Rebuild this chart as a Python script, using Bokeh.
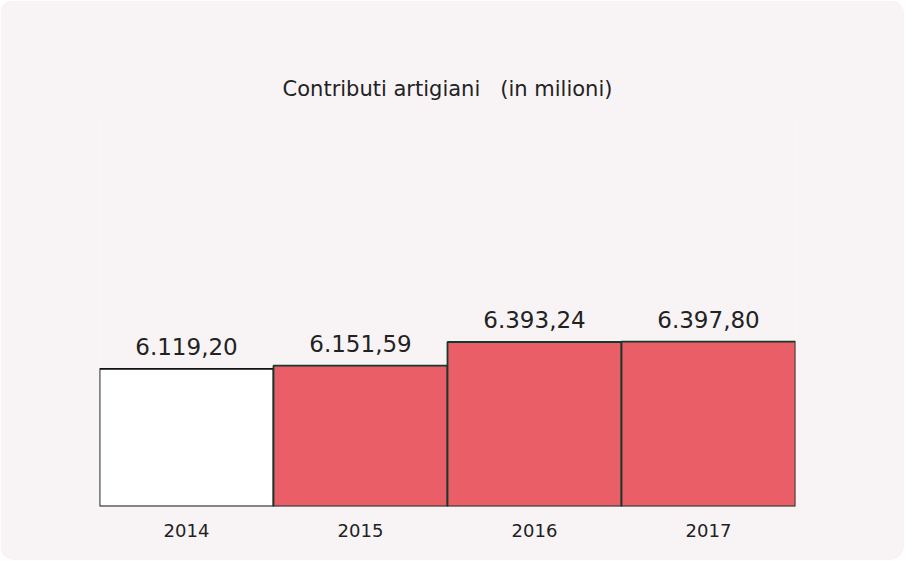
from bokeh.plotting import figure
from bokeh.models import ColumnDataSource, LabelSet, Range1d, FactorRange
from bokeh.core.properties import value
from bokeh.embed import file_html
from bokeh.resources import INLINE

years = ["2014", "2015", "2016", "2017"]
values = [6119.20, 6151.59, 6393.24, 6397.80]
fills = ["#ffffff", "#e95e67", "#e95e67", "#e95e67"]
edges = ["#111111", "#15392f", "#15392f", "#15392f"]
title_text = "Contributi artigiani\u00a0\u00a0 (in milioni)"

def it_fmt(v):
    s = f"{v:,.2f}"
    return s.replace(",", "X").replace(".", ",").replace("X", ".")

labels = [it_fmt(v) for v in values]

Y0 = 4715
Y1 = 8632

src = ColumnDataSource(dict(x=years, top=values, fill=fills, edge=edges, label=labels))

BG = "#f8f4f6"
p = figure(width=904, height=560, x_range=FactorRange(*years, range_padding=0),
           y_range=Range1d(Y0, Y1), output_backend="svg", toolbar_location=None,
           title=title_text,
           min_border_left=99, min_border_right=109, min_border_top=122, min_border_bottom=54)
p.styles = {"border-radius": "14px", "overflow": "hidden"}
p.background_fill_color = BG
p.border_fill_color = BG
p.outline_line_color = None
p.grid.visible = False
p.yaxis.visible = False

p.title.align = "center"
p.title.text_font = "DejaVu Sans"
p.title.text_font_size = "21px"
p.title.text_font_style = "normal"
p.title.text_color = "#222222"
p.title.standoff = 44

p.vbar(x="x", top="top", bottom=Y0, width=1.0, source=src,
       fill_color="fill", line_color="edge", line_width=1.8)

p.add_layout(LabelSet(x="x", y="top", text="label", source=src, text_align="center",
                      text_baseline="alphabetic", y_offset=14, text_font=value("DejaVu Sans"),
                      text_font_size=value("23px"), text_color="#222222"))

ax = p.xaxis[0]
ax.axis_line_color = None
ax.major_tick_line_color = None
ax.minor_tick_line_color = None
ax.major_label_text_font = "DejaVu Sans"
ax.major_label_text_font_size = "18px"
ax.major_label_text_color = "#222222"
ax.major_label_standoff = 11

open("out.html", "w").write(file_html(p, INLINE))
